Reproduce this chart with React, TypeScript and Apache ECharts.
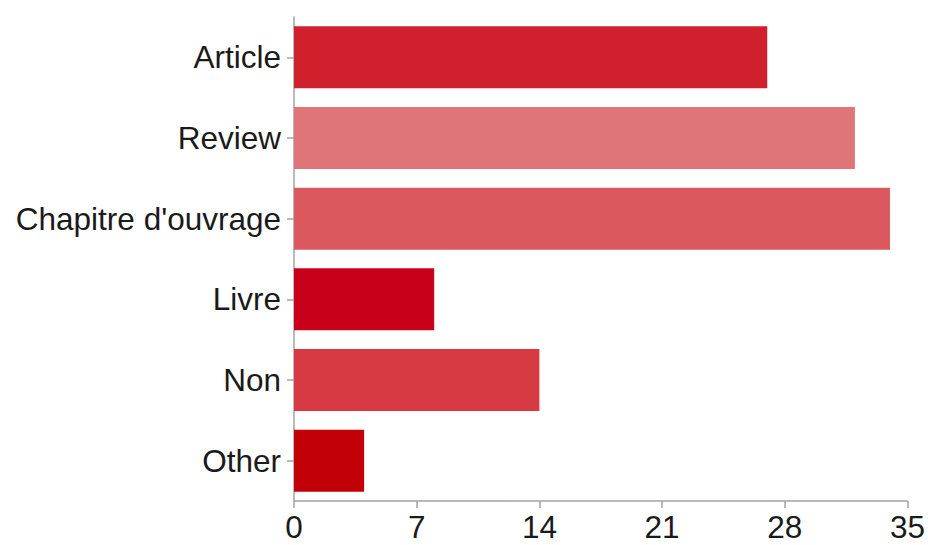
import React, { useEffect, useRef } from "react";
import * as echarts from "echarts";

const categories = ["Article", "Review", "Chapitre d'ouvrage", "Livre", "Non", "Other"];
const values = [27, 32, 34, 8, 14, 4];
const barColors = ["#d0202e", "#e07579", "#da585e", "#c9001a", "#d63a42", "#c20008"];
const xTicks = { min: 0, max: 35, interval: 7 };

export default function App() {
  const ref = useRef<HTMLDivElement>(null);
  useEffect(() => {
    if (!ref.current) return;
    const chart = echarts.init(ref.current, null, { renderer: "svg" });
    const font = "Helvetica, 'Liberation Sans', Arial, sans-serif";
    chart.setOption({
      animation: false,
      backgroundColor: "#ffffff",
      grid: { left: 294, right: 19, top: 17, bottom: 44, containLabel: false },
      xAxis: {
        type: "value",
        min: xTicks.min,
        max: xTicks.max,
        interval: xTicks.interval,
        splitLine: { show: false },
        axisLine: { show: true, lineStyle: { color: "#a3a3a3", width: 1.5 } },
        axisTick: { show: true, length: 7, lineStyle: { color: "#a3a3a3", width: 1.5 } },
        axisLabel: { color: "#1a1a1a", fontSize: 31.5, fontFamily: font, margin: 10 },
      },
      yAxis: {
        type: "category",
        data: categories,
        inverse: true,
        axisLine: { show: true, lineStyle: { color: "#a3a3a3", width: 1.5 } },
        axisTick: { show: true, alignWithLabel: true, length: 7, lineStyle: { color: "#a3a3a3", width: 1.5 } },
        axisLabel: { color: "#1a1a1a", fontSize: 31.5, fontFamily: font, margin: 13, padding: [4, 0, 0, 0] },
      },
      series: [
        {
          type: "bar",
          barWidth: 62,
          data: values.map((v, i) => ({ value: v, itemStyle: { color: barColors[i] } })),
        },
      ],
    });
    return () => chart.dispose();
  }, []);
  return <div ref={ref} style={{ width: 928, height: 545, position: "absolute", left: 0, top: 0 }} />;
}
